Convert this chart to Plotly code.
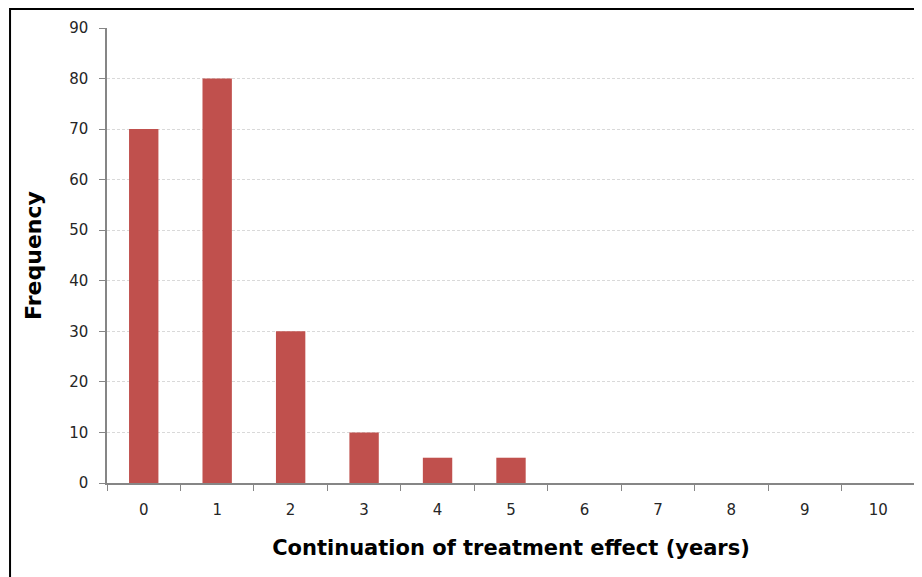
import plotly.graph_objects as go

categories = ["0", "1", "2", "3", "4", "5", "6", "7", "8", "9", "10"]
frequency = [70, 80, 30, 10, 5, 5, 0, 0, 0, 0, 0]
y_ticks = [0, 10, 20, 30, 40, 50, 60, 70, 80, 90]

fig = go.Figure(go.Bar(x=categories, y=frequency, marker=dict(color="#C0504D", line=dict(width=0))))

fig.update_layout(
    width=914, height=569,
    margin=dict(l=99, r=7, t=20, b=94),
    paper_bgcolor="white", plot_bgcolor="white",
    bargap=0.6,
    showlegend=False,
    font=dict(family="DejaVu Sans", size=15, color="#262626"),
)
fig.update_xaxes(
    type="category", tickson="boundaries", ticks="outside", ticklen=6, tickcolor="#868686",
    showline=True, linecolor="#868686", linewidth=1.5, showgrid=False,
    ticklabelstandoff=12,
    tickfont=dict(family="DejaVu Sans", size=15, color="#262626"),
    title=dict(text="Continuation of treatment effect (years)",
               font=dict(family="DejaVu Sans", size=21, color="black", weight="bold"), standoff=23),
)
fig.update_yaxes(
    range=[0, 90], tickvals=y_ticks, ticks="outside", ticklen=6, tickcolor="#868686",
    showline=True, linecolor="#868686", linewidth=1.5,
    showgrid=True, gridcolor="#d9d9d9", griddash="3px,2px", gridwidth=1,
    zeroline=False,
    ticklabelstandoff=8,
    tickfont=dict(family="DejaVu Sans", size=15, color="#262626"),
    title=dict(text="Frequency", font=dict(family="DejaVu Sans", size=22, color="black", weight="bold"), standoff=21),
)
fig.add_shape(type="rect", xref="paper", yref="paper", x0=-0.1200, x1=1.05, y0=-0.3, y1=1.0418,
              line=dict(color="black", width=2), fillcolor="rgba(0,0,0,0)", layer="above")

fig.write_html("out.html")
